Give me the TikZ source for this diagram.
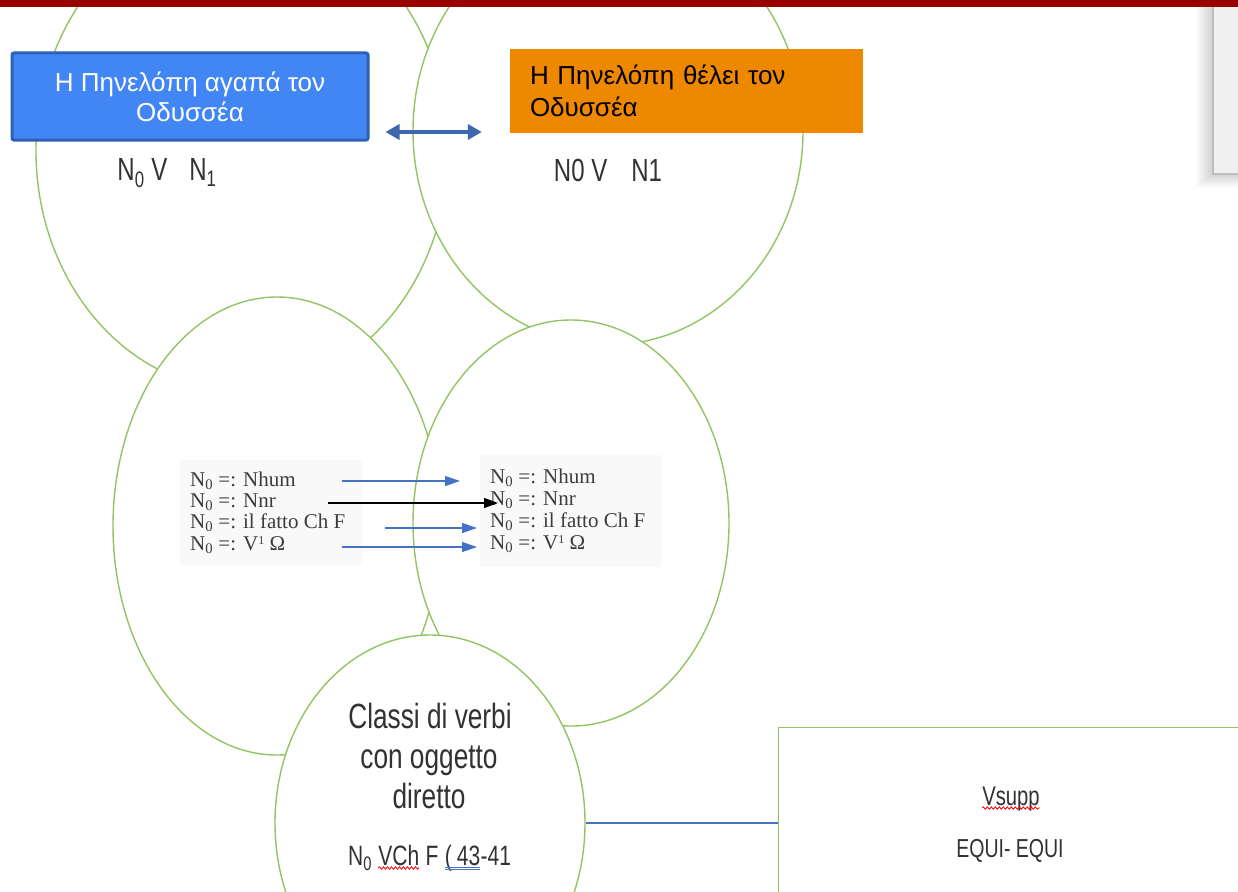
\documentclass[tikz,border=0pt]{standalone}
\usepackage{fontspec}
\setmainfont{Liberation Serif}
\newfontfamily\arialf{Liberation Sans}
\newfontfamily\agency[FakeStretch=0.75]{Liberation Sans}
\usetikzlibrary{shapes.geometric,arrows.meta,decorations.pathmorphing}
\definecolor{ellgreen}{RGB}{146,196,100}
\definecolor{bluefill}{RGB}{66,134,244}
\definecolor{blueborder}{RGB}{46,96,180}
\definecolor{orangefill}{RGB}{238,136,0}
\definecolor{arrowblue}{RGB}{62,104,174}
\definecolor{lineblue}{RGB}{68,114,196}
\definecolor{darkred}{RGB}{153,0,0}
\definecolor{textgray}{RGB}{50,50,50}
\definecolor{tabgray}{RGB}{60,60,60}
\definecolor{imgbg}{RGB}{249,249,249}
\definecolor{panelfill}{RGB}{240,240,240}
\definecolor{panelborder}{RGB}{190,190,190}
\newcommand{\lowsup}[1]{\raisebox{0.28em}{\fontsize{12}{12}\selectfont #1}}
\begin{document}
\begin{tikzpicture}[x=1pt,y=-1pt,
  ell/.style={ellipse, draw=ellgreen, line width=1.4pt, fill=white, inner sep=0pt},
  imgbox/.style={fill=imgbg, inner sep=0pt},
  tabrow/.style={anchor=base west, inner sep=0pt, text=tabgray, font=\fontsize{21}{21}\selectfont},
  tabarrow/.style={draw=lineblue, line width=1.3pt, -{Triangle[length=15pt,width=10pt]}},
  blackarrow/.style={draw=black, line width=1.3pt, -{Triangle[length=14pt,width=10pt]}},
  condtext/.style={anchor=base, inner sep=0pt, text=textgray},
  dblarrow/.style={draw=arrowblue, line width=4.5pt, {Triangle[length=14pt,width=15pt]}-{Triangle[length=14pt,width=15pt]}}
]
\useasboundingbox (0,0) rectangle (1238,891);
\clip (0,0) rectangle (1238,891);
\fill[white] (0,0) rectangle (1238,891);

% ellipses
\node[ell, minimum width=412pt, minimum height=478pt] (e1) at (242,151) {};
\node[ell, minimum width=390pt, minimum height=428pt] (e2) at (608,131) {};
\node[ell, minimum width=328pt, minimum height=458pt] (e3) at (277,526) {};
\node[ell, minimum width=316pt, minimum height=406pt] (e4) at (571,523) {};

% top boxes
\node[draw=blueborder, fill=bluefill, line width=3pt, rounded corners=2pt,
      minimum width=356pt, minimum height=87pt, align=center, text=white,
      font=\arialf\fontsize{26}{30}\selectfont] (bb) at (190,96.5)
      {Η Πηνελόπη αγαπά τον\\Οδυσσέα};
\node[fill=orangefill, minimum width=353pt, minimum height=84pt, text width=313pt,
      inner xsep=20pt, align=left, text=black,
      font=\arialf\fontsize{26}{32}\selectfont] (ob) at (686.5,91)
      {Η Πηνελόπη θέλει τον\\Οδυσσέα};
\coordinate (ay) at (0,132);
\draw[dblarrow, shorten <=16pt, shorten >=28pt] (bb.east |- ay) -- (ob.west |- ay);

% labels N0 V N1
\node[condtext, font=\agency\fontsize{32}{36}\selectfont] (lab1) at (167,180)
  {N\textsubscript{0} V\hspace{22pt}N\textsubscript{1}};
\node[condtext, font=\agency\fontsize{32}{36}\selectfont] (lab2) at (608,181)
  {N0 V\hspace{24pt}N1};

% table images
\node[imgbox, minimum width=182pt, minimum height=105pt] (imgL) at (271,512.5) {};
\node[imgbox, minimum width=182pt, minimum height=112pt] (imgR) at (571,511) {};

\node[tabrow] (l1) at (190,486) {N\textsubscript{0} =: Nhum};
\node[tabrow] (l2) at (190,507) {N\textsubscript{0} =: Nnr};
\node[tabrow] (l3) at (190,528) {N\textsubscript{0} =: il fatto Ch F};
\node[tabrow] (l4) at (190,550) {N\textsubscript{0} =: V\lowsup{1} Ω};
\node[tabrow] (r1) at (490,483) {N\textsubscript{0} =: Nhum};
\node[tabrow] (r2) at (490,505) {N\textsubscript{0} =: Nnr};
\node[tabrow] (r3) at (490,527) {N\textsubscript{0} =: il fatto Ch F};
\node[tabrow] (r4) at (490,549) {N\textsubscript{0} =: V\lowsup{1} Ω};

\coordinate (a1s) at (342,481); \coordinate (a1e) at (460,481);
\coordinate (a2s) at (328,503); \coordinate (a2e) at (498,503);
\coordinate (a3s) at (385,528); \coordinate (a3e) at (477,528);
\coordinate (a4s) at (342,547); \coordinate (a4e) at (477,547);
\draw[tabarrow] (a1s) -- (a1e);
\draw[blackarrow] (a2s) -- (a2e);
\draw[tabarrow] (a3s) -- (a3e);
\draw[tabarrow] (a4s) -- (a4e);

% bottom ellipse
\node[ell, minimum width=310pt, minimum height=376pt] (e5) at (430,823) {};
\node[condtext, font=\agency\fontsize{35}{40}\selectfont] (c1) at (430,728) {Classi di verbi};
\node[condtext, font=\agency\fontsize{35}{40}\selectfont] (c2) at (429,768) {con oggetto};
\node[condtext, font=\agency\fontsize{35}{40}\selectfont] (c3) at (429,808) {diretto};

\node[condtext, anchor=base west, font=\agency\fontsize{28}{32}\selectfont] (n1) at (348,865) {N\textsubscript{0}};
\node[condtext, anchor=base west, font=\agency\fontsize{28}{32}\selectfont] (n2) at ([xshift=6pt]n1.base east) {VCh};
\node[condtext, anchor=base west, font=\agency\fontsize{28}{32}\selectfont] (n3) at ([xshift=6pt]n2.base east) {F};
\node[condtext, anchor=base west, font=\agency\fontsize{28}{32}\selectfont] (n4) at ([xshift=6pt]n3.base east) {(\hspace{5pt}43};
\node[condtext, anchor=base west, font=\agency\fontsize{28}{32}\selectfont] (n5) at (n4.base east) {-41};
\draw[red, line width=0.8pt, decorate, decoration={snake, amplitude=1.2pt, segment length=4pt}]
  ([yshift=-3pt]n2.base west) -- ([yshift=-3pt]n2.base east);
\draw[lineblue, line width=0.9pt] ([yshift=-2pt]n4.base west) -- ([yshift=-2pt]n4.base east);
\draw[lineblue, line width=0.9pt] ([yshift=-4.5pt]n4.base west) -- ([yshift=-4.5pt]n4.base east);

% right box
\node[draw=ellgreen, line width=1.4pt, fill=white, anchor=north west,
      minimum width=500pt, minimum height=200pt] (vbox) at (778,727) {};
\draw[lineblue, line width=1.2pt] (e5.east) -- (e5.east -| vbox.west);
\node[condtext, font=\agency\fontsize{27}{30}\selectfont] (vs) at (1011,805) {Vsupp};
\draw[red, line width=0.8pt, decorate, decoration={snake, amplitude=1.2pt, segment length=4pt}]
  ([yshift=-3pt]vs.base west) -- ([yshift=-3pt]vs.base east);
\node[condtext, font=\agency\fontsize{26}{30}\selectfont] (eq) at (1010,857) {EQUI- EQUI};

% top-right panel with shadow
\foreach \s in {1,...,8} {
  \fill[black, opacity=0.018] (1212-2*\s,7) rectangle (1250,175+1.5*\s);
}
\fill[panelfill, draw=panelborder, line width=2pt] (1213,5) rectangle (1250,174);

% top bar
\fill[darkred] (0,0) rectangle (1238,7.5);
\end{tikzpicture}
\end{document}
